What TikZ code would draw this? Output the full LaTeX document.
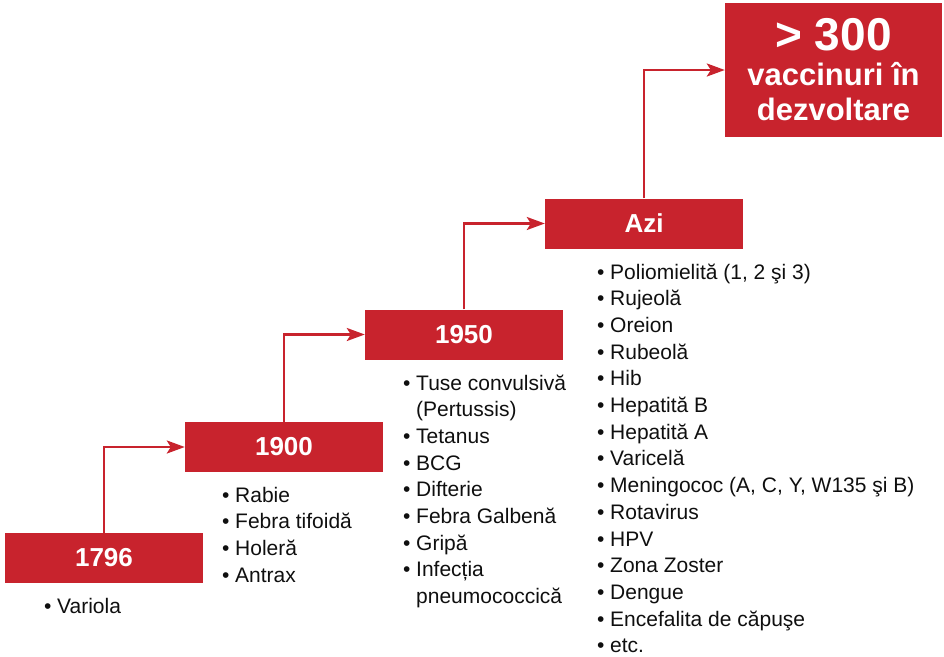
\documentclass[tikz,border=0pt]{standalone}
\usepackage{fontspec}
\setmainfont{Liberation Sans}
\usepackage{tikz}
\usetikzlibrary{arrows.meta,positioning}
\definecolor{vacred}{RGB}{200,35,45}
\definecolor{listblack}{RGB}{15,15,15}
\newcommand{\bul}{\makebox[13pt][l]{•}}
\newcommand{\nobul}{\hspace*{13pt}}

\begin{document}
\begin{tikzpicture}[x=1pt,y=-1pt,
  era/.style={rectangle, fill=vacred, inner sep=0pt, minimum width=198pt,
    minimum height=50pt, text=white, font=\fontsize{26}{30}\selectfont\bfseries},
  goal/.style={rectangle, fill=vacred, inner sep=0pt, minimum width=217pt,
    minimum height=134pt, text=white, font=\bfseries},
  item/.style={anchor=base west, inner sep=0pt, text=listblack,
    font=\fontsize{21}{26}\selectfont},
  step arrow/.style={-{Stealth[length=18pt, width=13pt, inset=4pt]}, vacred, line width=2.5pt}]
\useasboundingbox (0,0) rectangle (944,656);
\node[era] (y1796) at (104,558) {1796};
\node[era] (y1900) at (284,447) {1900};
\node[era] (y1950) at (464,334.5) {1950};
\node[era] (azi) at (644,223.5) {Azi};
\node[goal] (dev) at (833.5,70) {\parbox{217pt}{\centering
  \fontsize{46}{46}\selectfont > 300\par
  \fontsize{31}{35}\selectfont vaccinuri în\par dezvoltare\par}};
% steps
\draw[step arrow] (y1796.north) |- (y1900.west);
\draw[step arrow] (y1900.north) |- (y1950.west);
\draw[step arrow] (y1950.north) |- (azi.west);
\draw[step arrow] (azi.north) |- (dev.west);
% lists
\node[item] (l1796-0) at (44,613) {\bul Variola};
\foreach \t [count=\i from 0] in {Rabie, Febra tifoidă, Holeră, Antrax}
  \node[item] (l1900-\i) at (222,502+26.7*\i) {\bul\t};
\foreach \t [count=\i from 0] in {{\bul Tuse convulsivă}, {\nobul (Pertussis)},
    {\bul Tetanus}, {\bul BCG}, {\bul Difterie}, {\bul Febra Galbenă},
    {\bul Gripă}, {\bul Infecția}, {\nobul pneumococcică}}
  \node[item] (l1950-\i) at (403,390+26.7*\i) {\t};
\foreach \t [count=\i from 0] in {{Poliomielită (1, 2 şi 3)}, Rujeolă, Oreion,
    Rubeolă, Hib, Hepatită B, Hepatită A, Varicelă,
    {Meningococ (A, C, Y, W135 şi B)}, Rotavirus, HPV, Zona Zoster, Dengue,
    Encefalita de căpuşe, etc.}
  \node[item] (lazi-\i) at (597,279+26.7*\i) {\bul\t};
\end{tikzpicture}
\end{document}
